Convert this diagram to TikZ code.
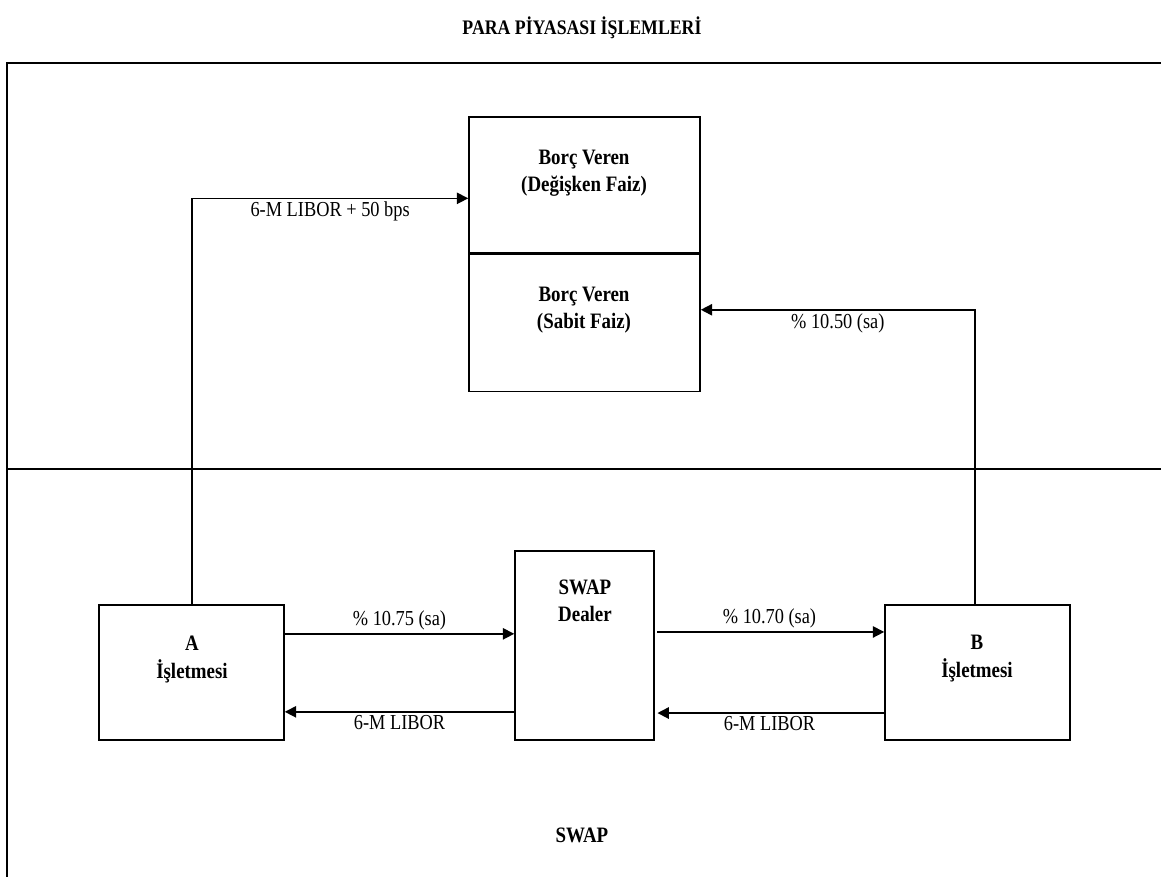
\documentclass[tikz,border=0pt]{standalone}
\usepackage{fontspec}
\setmainfont[FakeStretch=0.86]{Liberation Serif}
\usepackage{tikz}
\usetikzlibrary{positioning,arrows.meta}

\begin{document}
\begin{tikzpicture}[
  x=0.75pt, y=-0.75pt, line width=1.2pt,
  box/.style={draw, line width=1.2pt, inner sep=0pt},
  boxtxt/.style={align=center, font=\fontsize{16.5}{20.5}\selectfont\bfseries, inner sep=0pt},
  lbl/.style={font=\fontsize{16}{19}\selectfont, inner sep=2pt},
  arr/.style={-{Triangle[length=8.5pt,width=8.5pt]}, line width=1.2pt}]
\useasboundingbox (0,0) rectangle (1161,877);
\node[font=\fontsize{15.5}{18}\selectfont\bfseries] (title) at (582,28) {PARA PİYASASI İŞLEMLERİ};
\draw (1161,63) -- (7,63) -- (7,877);
\draw (7,469) -- (1161,469);
\node[box, minimum width=173.25pt, minimum height=102pt] (lendF) at (584.5,185) {};
\node[box, minimum width=173.25pt, minimum height=102.75pt, below=0pt of lendF] (lendS) {};
\node[box, minimum width=138.75pt, minimum height=101.25pt] (A) at (191.5,672.5) {};
\node[box, minimum width=104.25pt, minimum height=141.75pt] (dealer) at (584.5,645.5) {};
\node[box, minimum width=138.75pt, minimum height=101.25pt] (B) at (977.5,672.5) {};
\node[boxtxt] (lendFtxt) at (584,173.5) {Borç Veren\\(Değişken Faiz)};
\node[boxtxt] (lendStxt) at (584,310) {Borç Veren\\(Sabit Faiz)};
\node[boxtxt] (Atxt) at (192,659.5) {A\\İşletmesi};
\node[boxtxt] (dealertxt) at (585,601) {SWAP\\Dealer};
\node[boxtxt] (Btxt) at (977,658.5) {B\\İşletmesi};
\draw[arr] ([xshift=0.4pt]A.north) |- node[lbl, below, pos=0.75] {6-M LIBOR + 50 bps} ([yshift=-10pt]lendF.west);
\draw[arr] ([xshift=-2pt]B.north) |- node[lbl, below, pos=0.75] {\% 10.50 (sa)} ([yshift=10pt]lendS.east);
\draw[arr] ([yshift=29pt]A.east) -- node[lbl, above] {\% 10.75 (sa)} ([yshift=29pt]A.east -| dealer.west);
\draw[arr] ([yshift=-29.5pt]A.east -| dealer.west) -- node[lbl, below] {6-M LIBOR} ([yshift=-29.5pt]A.east);
\draw[arr, shorten <=2pt] ([yshift=30.4pt]B.west -| dealer.east) -- node[lbl, above] {\% 10.70 (sa)} ([yshift=30.4pt]B.west);
\draw[arr, shorten >=2pt] ([yshift=-30.4pt]B.west) -- node[lbl, below] {6-M LIBOR} ([yshift=-30.4pt]B.west -| dealer.east);
\node[font=\fontsize{16.5}{20}\selectfont\bfseries] (swap) at (582,835) {SWAP};
\end{tikzpicture}
\end{document}
